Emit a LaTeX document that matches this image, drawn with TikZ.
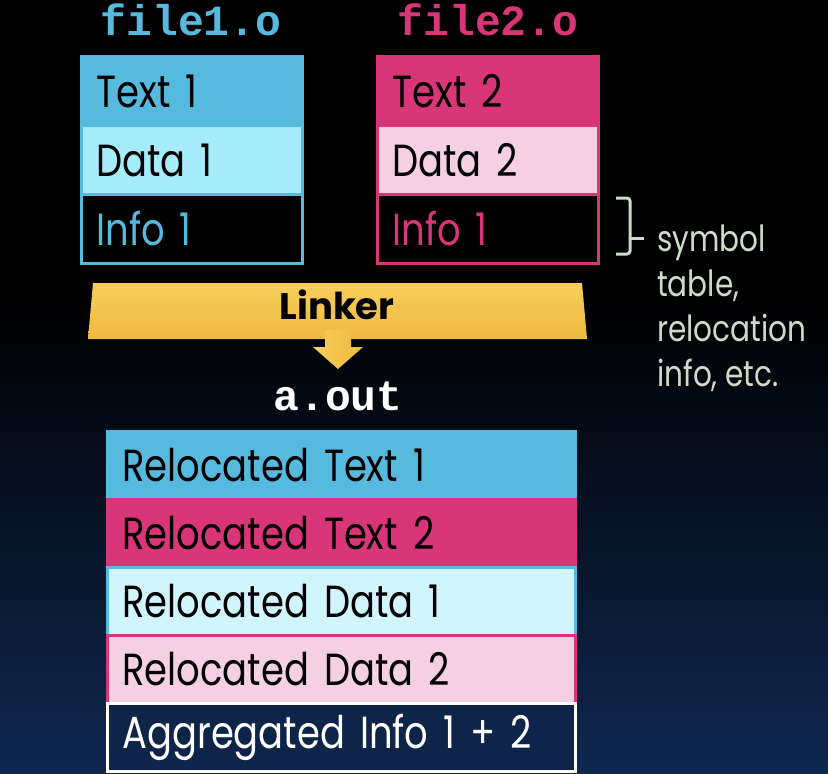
\documentclass[tikz,border=0pt]{standalone}
\usepackage{fontspec}
\setmainfont{Poppins}[FakeStretch=0.82]
\newfontfamily\barfont{Poppins}
\setmonofont{Liberation Mono}
\usetikzlibrary{positioning}

\definecolor{objcyan}{RGB}{86,185,222}
\definecolor{objpink}{RGB}{217,54,122}
\definecolor{datacyan}{RGB}{166,236,251}
\definecolor{datapink}{RGB}{245,208,226}
\definecolor{relcyan}{RGB}{208,245,253}
\definecolor{infonavy}{RGB}{14,36,72}
\definecolor{bgnavy}{RGB}{16,40,80}
\definecolor{notegray}{RGB}{205,220,200}
\definecolor{barlight}{RGB}{247,206,92}
\definecolor{bardark}{RGB}{238,186,62}

\tikzset{
  objrow/.style={draw, line width=3pt, outer sep=0pt, inner xsep=15pt, inner ysep=0pt,
    minimum height=69pt, text width=191pt, align=left, font=\fontsize{45}{50}\selectfont},
  outrow/.style={objrow, minimum height=68pt, text width=438pt},
  filelabel/.style={anchor=base, font=\ttfamily\bfseries\fontsize{43}{43}\selectfont}
}

\begin{document}
\begin{tikzpicture}[x=1pt, y=-1pt]
  \useasboundingbox (0,0) rectangle (828,774);
  \fill[black] (0,0) rectangle (828,774);
  \shade[top color=black, bottom color=bgnavy] (0,300) rectangle (828,774);

  % object files
  \node[filelabel, text=objcyan] (f1) at (191,35) {file1.o};
  \node[filelabel, text=objpink] (f2) at (488,35) {file2.o};

  \node[objrow, fill=objcyan, draw=objcyan, anchor=north west] (t1) at (81.5,56.5) {Text 1};
  \node[objrow, fill=datacyan, draw=objcyan, below=0pt of t1] (d1) {Data 1};
  \node[objrow, fill=black, draw=objcyan, text=objcyan, below=0pt of d1] (i1) {Info 1};

  \node[objrow, fill=objpink, draw=objpink, anchor=north west] (t2) at (377.5,56.5) {Text 2};
  \node[objrow, fill=datapink, draw=objpink, below=0pt of t2] (d2) {Data 2};
  \node[objrow, fill=black, draw=objpink, text=objpink, below=0pt of d2] (i2) {Info 1};

  % symbol table note
  \draw[notegray, line width=3pt, rounded corners=3pt] (616,198) -- (630,198) -- (630,254) -- (616,254);
  \draw[notegray, line width=3pt] (630,238) -- (644,238);
  \node[anchor=north west, align=left, inner sep=0pt, text=notegray,
    font=\fontsize{36}{45}\selectfont] (note) at (657,225) {symbol\\table,\\relocation\\info, etc.};

  % linker
  \shade[top color=barlight, bottom color=bardark] (93,283) -- (582,283) -- (587,339) -- (88,339) -- cycle;
  \node[font=\barfont\bfseries\fontsize{37}{37}\selectfont] (linker) at (337,305) {Linker};
  \shade[left color=barlight, right color=bardark]
    (325,330) -- (351,330) -- (351,347) -- (363,347) -- (338,369) -- (313,347) -- (325,347) -- cycle;

  % executable
  \node[filelabel, text=white] (aout) at (338,410) {a.out};

  \node[outrow, fill=objcyan, draw=objcyan, anchor=north west] (rt1) at (107.5,431.5) {Relocated Text 1};
  \node[outrow, fill=objpink, draw=objpink, below=0pt of rt1] (rt2) {Relocated Text 2};
  \node[outrow, fill=relcyan, draw=objcyan, below=0pt of rt2] (rd1) {Relocated Data 1};
  \node[outrow, fill=datapink, draw=objpink, below=0pt of rd1] (rd2) {Relocated Data 2};
  \node[outrow, fill=infonavy, draw=white, text=white, below=0pt of rd2] (ri) {Aggregated Info 1 + 2};
\end{tikzpicture}
\end{document}
